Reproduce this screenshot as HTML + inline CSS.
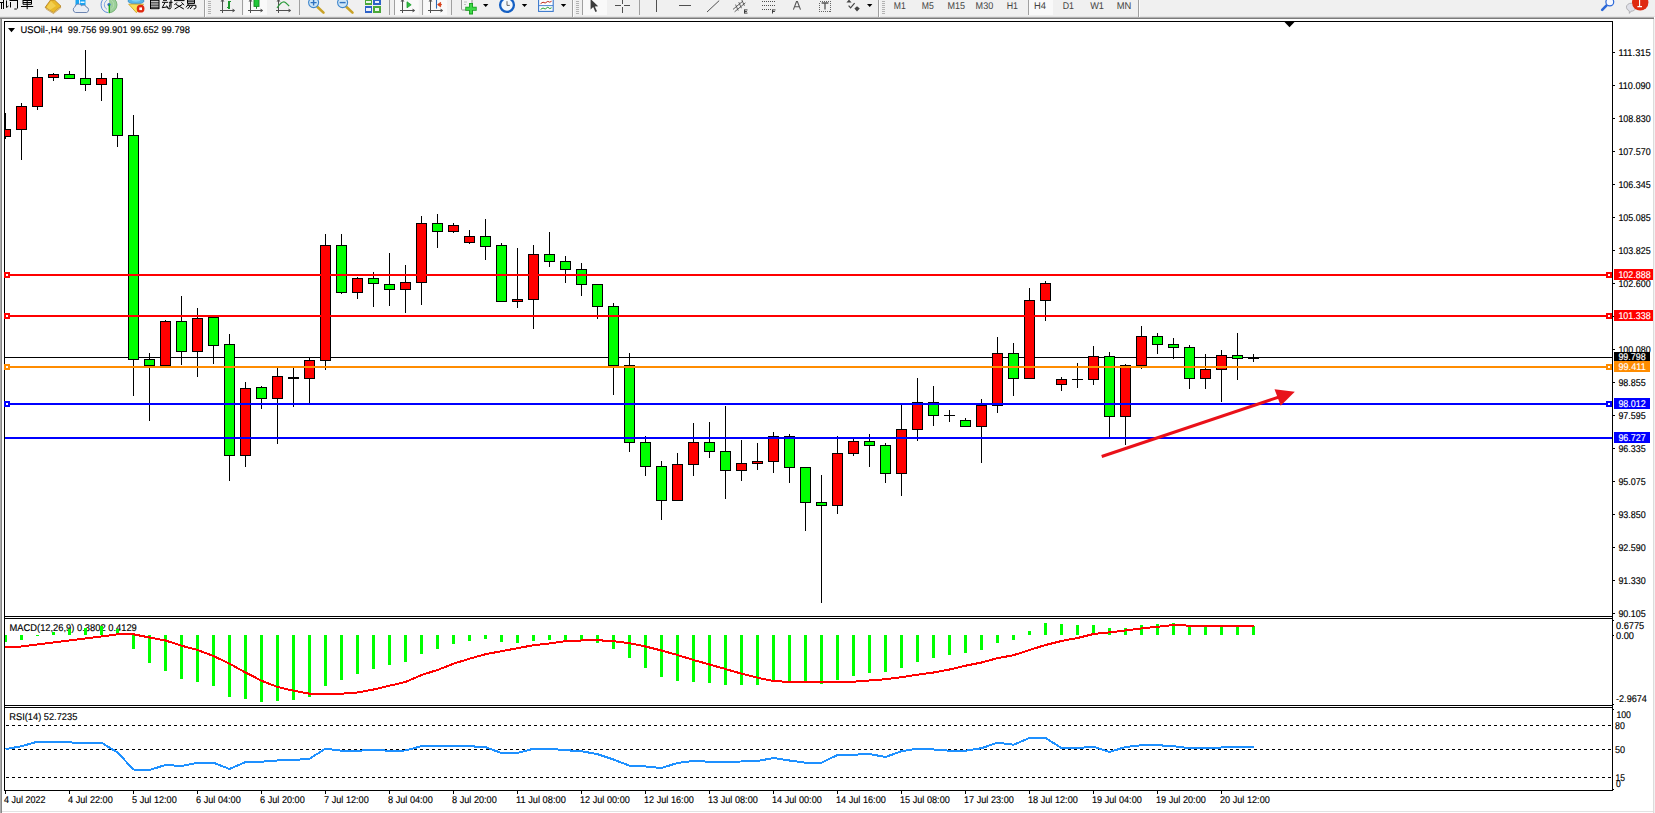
<!DOCTYPE html>
<html><head><meta charset="utf-8"><title>USOil H4</title>
<style>
html,body{margin:0;padding:0;background:#fff;}
body{width:1655px;height:813px;overflow:hidden;position:relative;font-family:"Liberation Sans",sans-serif;}
svg{position:absolute;left:0;top:0;display:block}
text{text-rendering:geometricPrecision;font-family:"Liberation Sans",sans-serif;font-size:9.8px;fill:#000;stroke:#000;stroke-width:0.15px}
text.wt{fill:#fff;stroke:#fff}
text.tf{fill:#444;stroke:none}
.w{fill:#fff}
</style></head><body>
<svg width="1655" height="813" viewBox="0 0 1655 813">

<rect x="0" y="0" width="1655" height="813" fill="#fff"/>
<g id="toolbar">
<rect x="0" y="0" width="1655" height="17" fill="#f0f0f0"/>
<rect x="0" y="16" width="1655" height="1" fill="#e4e4e4"/>
<rect x="0" y="17" width="1654" height="1" fill="#b0b0b0"/>
<rect x="0" y="18" width="1654" height="1" fill="#7a7a7a"/>
<!-- pressed buttons -->
<g fill="#f9f9f9"><rect x="243.5" y="0" width="23.5" height="15"/><rect x="394.7" y="0" width="24" height="15"/><rect x="423.4" y="0" width="23.6" height="15"/><rect x="583" y="0" width="24" height="15"/><rect x="1029" y="0" width="24" height="15"/></g>
<!-- separators -->
<g shape-rendering="crispEdges">
<g fill="#a0a0a0"><rect x="204" y="0" width="1" height="17"/><rect x="242" y="0" width="1" height="15"/><rect x="299" y="0" width="1" height="15"/><rect x="389" y="0" width="1" height="15"/><rect x="394" y="0" width="1" height="15"/><rect x="422" y="0" width="1" height="15"/><rect x="451" y="0" width="1" height="15"/><rect x="572" y="0" width="1" height="17"/><rect x="582" y="0" width="1" height="15"/><rect x="639" y="0" width="1" height="15"/><rect x="878" y="0" width="1" height="17"/><rect x="1028" y="0" width="1" height="15"/><rect x="1138" y="0" width="1" height="17"/></g>
<g fill="#fbfbfb"><rect x="205" y="0" width="1" height="17"/><rect x="573" y="0" width="1" height="17"/><rect x="879" y="0" width="1" height="17"/><rect x="1139" y="0" width="1" height="17"/></g>
<!-- grips -->
<g fill="#b2b2b2">
<rect x="208" y="1" width="3" height="1"/><rect x="208" y="3" width="3" height="1"/><rect x="208" y="5" width="3" height="1"/><rect x="208" y="7" width="3" height="1"/><rect x="208" y="9" width="3" height="1"/><rect x="208" y="11" width="3" height="1"/><rect x="208" y="13" width="3" height="1"/>
<rect x="576" y="1" width="3" height="1"/><rect x="576" y="3" width="3" height="1"/><rect x="576" y="5" width="3" height="1"/><rect x="576" y="7" width="3" height="1"/><rect x="576" y="9" width="3" height="1"/><rect x="576" y="11" width="3" height="1"/><rect x="576" y="13" width="3" height="1"/>
<rect x="882" y="1" width="3" height="1"/><rect x="882" y="3" width="3" height="1"/><rect x="882" y="5" width="3" height="1"/><rect x="882" y="7" width="3" height="1"/><rect x="882" y="9" width="3" height="1"/><rect x="882" y="11" width="3" height="1"/><rect x="882" y="13" width="3" height="1"/>
</g>
</g>
<!-- CJK fragments: (xin) ding dan -->
<g stroke="#000" stroke-width="1" fill="none">
<path d="M0 2.5h3.5M1.5 2.5v6.5M3.5 0v9"/>
<path d="M6.5 0.5v7l2-1.5M9.5 0.5h8.5M10.5 2v5.5M17.5 0v8.2l-1 .8h-2.2"/>
<path d="M23 0.5h8.5M23 2.5h8.5M23 4.3h8.5M23 0v4.3M31.5 0v4.3M21 6.5h12.2M27.2 0v9.2"/>
</g>
<!-- book icon -->
<path d="M50.5 0 L54.5 0 L61 6.2 L53.4 12.8 L45.2 7.3 Z" fill="#e9b92a" stroke="#b07a1c" stroke-width="0.8"/>
<path d="M46 7.8 L53.4 12.6 L60.6 6.6 L60.6 8 L53.4 13.6 L46 9 Z" fill="#f4e0a0" stroke="#b07a1c" stroke-width="0.5"/>
<path d="M51 1 L56 6 L50 10 L46.5 7.4 Z" fill="#f6d860" opacity="0.7"/>
<!-- doc + cloud -->
<rect x="75.5" y="-1" width="10" height="8" fill="#18a4f2"/>
<rect x="79" y="-1" width="1" height="7" fill="#dff2ff"/>
<rect x="80.5" y="1.5" width="4" height="1.5" fill="#e8f6ff"/>
<path d="M75.5 12.5 a3 3 0 0 1 -.6 -5.6 a3.6 3.6 0 0 1 6.6 -1.2 a3 3 0 0 1 4.8 1.4 a2.8 2.8 0 0 1 .4 5.4 z" fill="#e9edf5" stroke="#5f78a8" stroke-width="0.9"/>
<!-- signal icon -->
<g fill="none" stroke-linecap="round">
<path d="M109 -3.2 A8 8 0 0 1 109 12.8 L109 4.8 Z" fill="#8cc98a" stroke="none" opacity="0.85"/>
<path d="M109 -3.2 A8 8 0 0 1 109 12.8" stroke="#6aa86a" stroke-width="0.8"/>
<path d="M105.5 -2.4 A8 8 0 0 0 107.5 12.6" stroke="#4c7fd6" stroke-width="0.9"/>
<path d="M106.5 0.5 A5 5 0 0 0 106.5 9" stroke="#6f9ae0" stroke-width="0.9"/>
<path d="M111.6 0.6 A5 5 0 0 1 111.6 9" stroke="#b8dcb8" stroke-width="0.9"/>
<circle cx="109" cy="4.6" r="1.6" fill="#2f66d0" stroke="none"/>
<path d="M109.3 5v7.6" stroke="#22aa22" stroke-width="1.4"/>
</g>
<!-- autotrading icon -->
<ellipse cx="136" cy="1" rx="8" ry="3" fill="#58b4e6" stroke="#2d86c2" stroke-width="0.7"/>
<ellipse cx="136" cy="-0.5" rx="4.5" ry="2.2" fill="#7fd0f4"/>
<path d="M128.7 4.2 L143.5 4.2 L136.4 12.7 Z" fill="#f7e05a" stroke="#c9a020" stroke-width="0.8"/>
<circle cx="140.6" cy="8.7" r="3.9" fill="#e02810"/>
<rect x="139.3" y="7.4" width="2.7" height="2.7" fill="#fff"/>
<!-- CJK zi dong jiao yi -->
<g stroke="#000" stroke-width="1" fill="none">
<path d="M150.5 0v9M159 0v9M150.5 0.7h8.5M150.5 2.9h8.5M150.5 5.1h8.5M150.5 7.2h8.5M150.5 8.7h8.5"/>
<path d="M162 2.3h6M163 0.3h4M165 2.5l-2.8 5.2l5.2-.8M166.6 5.6l1.4 2.8M168.8 2.3h3.8M171 0v7.6l-.8 1.2h-1.6M170 2.5c0 3-.6 5-2 6.4"/>
<path d="M174 0.6h10.5M177 2.4l-2.6 2.6M181.4 2.4l2.8 2.6M176 4.4l7.8 4.6M182.4 4.4l-7.8 4.6"/>
<path d="M187.5 0h7v3.6h-7zM187.5 1.8h7M187.3 5.3h8.6v2.2l-1 1.4h-1.2M188.6 3.8l-2.6 3.6M190.4 5.5l-2.8 3.4M192.8 5.5l-2.6 3.4"/>
</g>
<!-- chart type icons -->
<g stroke="#505050" stroke-width="1.1" fill="none" shape-rendering="crispEdges">
<path d="M222.5 0v12.6M220 10.5h13"/>
<path d="M250.5 0v12.6M248 10.5h13"/>
<path d="M278.5 0v12.6M276 10.5h13"/>
<path d="M402.5 0v12.6M400 10.5h13"/>
<path d="M430.5 0v12.6M428 10.5h13"/>
</g>
<g fill="#505050"><path d="M232.6 8.6l2.6 2-2.6 2zM260.6 8.6l2.6 2-2.6 2zM288.6 8.6l2.6 2-2.6 2zM412.6 8.6l2.6 2-2.6 2zM440.6 8.6l2.6 2-2.6 2z"/><path d="M220.5 1.6l2-2.6 2 2.6zM248.5 1.6l2-2.6 2 2.6zM276.5 1.6l2-2.6 2 2.6zM400.5 1.6l2-2.6 2 2.6zM428.5 1.6l2-2.6 2 2.6z"/></g>
<path d="M229 0.5v8M229 1.5h2M227 7.5h2" stroke="#1e9a2e" stroke-width="1.2" fill="none" shape-rendering="crispEdges"/>
<rect x="254" y="-1" width="5" height="7.4" fill="#20c838" stroke="#138a24" stroke-width="0.9"/><path d="M256.5 6.4v2.4" stroke="#138a24" stroke-width="1"/>
<path d="M277 8 C280 3.5 283 1 285 2.2 C287 3.4 288 5.2 289.2 6" stroke="#2a9a3a" stroke-width="1.1" fill="none"/>
<!-- zoom in/out -->
<g>
<path d="M317.5 7l6 5.6" stroke="#c9a227" stroke-width="2.6" stroke-linecap="round"/>
<circle cx="313.6" cy="2.6" r="5" fill="#cfe6f7" stroke="#3f86cc" stroke-width="1.1"/>
<path d="M310.6 2.6h6M313.6 -.4v6" stroke="#2f72c0" stroke-width="1.4"/>
<path d="M346.5 7l6 5.6" stroke="#c9a227" stroke-width="2.6" stroke-linecap="round"/>
<circle cx="342.6" cy="2.6" r="5" fill="#cfe6f7" stroke="#3f86cc" stroke-width="1.1"/>
<path d="M339.6 2.6h6" stroke="#2f72c0" stroke-width="1.4"/>
</g>
<!-- grid/tile icon -->
<g shape-rendering="crispEdges">
<rect x="364.5" y="-1" width="7.5" height="5.5" fill="#4aa83a"/><rect x="373" y="-1" width="7.5" height="5.5" fill="#2d62c8"/>
<rect x="364.5" y="5.5" width="7.5" height="7.2" fill="#2d62c8"/><rect x="373" y="5.5" width="7.5" height="7.2" fill="#4aa83a"/>
<rect x="366" y="0.5" width="4.5" height="2.5" fill="#eef6ee"/><rect x="374.5" y="0.5" width="4.5" height="2.5" fill="#eef0fa"/>
<rect x="366" y="8" width="4.5" height="3.2" fill="#eef0fa"/><rect x="374.5" y="8" width="4.5" height="3.2" fill="#eef6ee"/>
</g>
<!-- autoscroll / shift -->
<path d="M407 1.8l4.2 3-4.2 3z" fill="#2fc040" stroke="#1e9a2e" stroke-width="0.8"/>
<path d="M436.5 0v8.6" stroke="#2a6ab8" stroke-width="1.1"/>
<path d="M442 4.6h-3.6M440.6 2.4l-3 2.2 3 2.2z" stroke="#d84018" stroke-width="0.9" fill="#d84018"/>
<!-- indicators (doc + plus) -->
<rect x="461.5" y="-1" width="10.5" height="11" rx="1" fill="#f4f4f4" stroke="#8a8a8a" stroke-width="0.9"/>
<path d="M464 2h3M464 4.5h2" stroke="#b0b0b0" stroke-width="0.8"/>
<path d="M471 3v11.4M465.3 8.7h11.4" stroke="#159a1c" stroke-width="4"/>
<path d="M471 3.8v9.8M466.1 8.7h9.8" stroke="#3fd848" stroke-width="2.4"/>
<path d="M483 4h5.4l-2.7 3z" fill="#000"/>
<!-- clock -->
<circle cx="507" cy="5" r="6.9" fill="#f4f8fc" stroke="#1560c4" stroke-width="2.3"/>
<path d="M507 1.2v4.2h2.8" stroke="#555" stroke-width="0.9" fill="none"/>
<path d="M521.8 4h5.4l-2.7 3z" fill="#000"/>
<!-- template icon -->
<rect x="538.6" y="-1" width="14.6" height="12.4" fill="#fbfdff" stroke="#3a78cc" stroke-width="1.1"/>
<path d="M539 5.6h14" stroke="#3a78cc" stroke-width="0.9"/>
<path d="M540.6 3.6l2.4-1.4 2.2.8 2.6-1.6 2 .8 1.8-1" stroke="#c03020" stroke-width="1" fill="none"/>
<path d="M540.6 9.4l2.4-1.4 2.2 1 2.6-1.8 2 1.4 1.8-.8" stroke="#28a030" stroke-width="1" fill="none"/>
<path d="M560.8 4h5.4l-2.7 3z" fill="#000"/>
<!-- cursor -->
<path d="M590.6 -1 L590.6 9.4 L593.2 7 L595.4 12 L597 11.2 L594.8 6.4 L598.2 6.2 Z" fill="#3c3c3c"/>
<!-- crosshair -->
<path d="M615 5.5h6M623.6 5.5h6M622.5 0v4M622.5 7v5.6" stroke="#505050" stroke-width="1" shape-rendering="crispEdges"/>
<!-- vline, hline, trendline -->
<path d="M656.5 0v11.8M679 5.5h12" stroke="#505050" stroke-width="1" shape-rendering="crispEdges"/>
<path d="M707 12L719.2 0.6" stroke="#505050" stroke-width="1"/>
<!-- channel -->
<g stroke="#505050" stroke-width="0.9" fill="none"><path d="M733 9.4l10-8.4M734.6 11.8l10.8-9M735.6 4.6l2.6 6M738.8 2.2l2.6 6M741.8 -.2l2.6 6"/></g>
<path d="M744.5 9.5v4M744.5 9.9h3M744.5 11.5h2.4M744.5 13.1h3" stroke="#303030" stroke-width="0.9" fill="none"/>
<!-- fibo -->
<g stroke="#505050" stroke-width="1" stroke-dasharray="1 1" shape-rendering="crispEdges"><path d="M762 1.5h13.6M762 5.5h13.6M762 9.5h9"/></g>
<path d="M772.5 9.5v4M772.5 9.9h3M772.5 11.5h2.4" stroke="#303030" stroke-width="0.9" fill="none"/>
<!-- A, T -->
<path d="M793.4 9.6l3.1-8h.9l3.1 8M794.6 6.8h4.7" stroke="#555" stroke-width="1.1" fill="none"/>
<rect x="819.5" y="1.5" width="11" height="10" fill="none" stroke="#555" stroke-width="0.9" stroke-dasharray="1 1" shape-rendering="crispEdges"/>
<path d="M821.6 3h6.8M825 3v6.6" stroke="#555" stroke-width="1.3" fill="none"/>
<!-- arrows icon -->
<path d="M846.4 2.6l2.6-3 2.6 3zM854.4 8.6l2.6-2.4 2.8 2.4-2.8 2.8z" fill="#444"/>
<path d="M848.6 5.6l2 2.2 4-4.6" stroke="#444" stroke-width="1.2" fill="none"/>
<path d="M867 4h5.4l-2.7 3z" fill="#000"/>
<!-- timeframes -->
<g style="font-size:10px">
<text x="893.8" y="8.6" textLength="12" lengthAdjust="spacingAndGlyphs" class="tf">M1</text>
<text x="921.8" y="8.6" textLength="12" lengthAdjust="spacingAndGlyphs" class="tf">M5</text>
<text x="947.5" y="8.6" textLength="17.6" lengthAdjust="spacingAndGlyphs" class="tf">M15</text>
<text x="975.6" y="8.6" textLength="17.6" lengthAdjust="spacingAndGlyphs" class="tf">M30</text>
<text x="1006.7" y="8.6" textLength="11.3" lengthAdjust="spacingAndGlyphs" class="tf">H1</text>
<text x="1034" y="8.6" textLength="12" lengthAdjust="spacingAndGlyphs" class="tf">H4</text>
<text x="1062.7" y="8.6" textLength="11.3" lengthAdjust="spacingAndGlyphs" class="tf">D1</text>
<text x="1090.2" y="8.6" textLength="13.8" lengthAdjust="spacingAndGlyphs" class="tf">W1</text>
<text x="1116.7" y="8.6" textLength="14.6" lengthAdjust="spacingAndGlyphs" class="tf">MN</text>
</g>
<!-- search -->
<path d="M1606.6 5.4L1602.2 9.8" stroke="#2c68d8" stroke-width="2.6" stroke-linecap="round"/>
<circle cx="1609.8" cy="2" r="3.9" fill="#f6f8ff" stroke="#2c68d8" stroke-width="1.2"/>
<!-- chat bubble + badge -->
<path d="M1626.4 7.2a4.8 4 0 0 1 9.6 0a4.8 4 0 0 1 -5 4l-1.6 2.2l-.2-2.6a4.8 4 0 0 1 -2.8-3.6z" fill="#dfe0e8" stroke="#a4a4a8" stroke-width="0.8"/>
<circle cx="1640.2" cy="2.4" r="8.2" fill="#df2a10"/>
<path d="M1639.6 -2v8.4M1637.4 6.6h4.6" stroke="#fff" stroke-width="1.1" fill="none"/>
</g>

<g shape-rendering="crispEdges">
<rect x="0" y="19" width="1" height="794" fill="#ababab"/><rect x="1" y="19" width="1" height="794" fill="#868686"/>
<rect x="1653" y="19" width="1" height="794" fill="#dcdcdc"/><rect x="1654" y="19" width="1" height="794" fill="#f2f2f2"/>
<rect x="2" y="811" width="1651" height="1" fill="#e3e3e3"/>
<rect x="4" y="21" width="1609" height="1" fill="#000"/>
<rect x="4" y="21" width="1" height="770" fill="#000"/>
<rect x="1612" y="21" width="1" height="770" fill="#000"/>
<rect x="4" y="616" width="1609" height="1" fill="#000"/>
<rect x="4" y="618" width="1609" height="1" fill="#000"/>
<rect x="4" y="705" width="1609" height="1" fill="#000"/>
<rect x="4" y="707" width="1609" height="1" fill="#000"/>
<rect x="4" y="790" width="1609" height="1" fill="#000"/>
<rect x="5" y="357" width="1607" height="1" fill="#000"/>
<rect x="5" y="113" width="1" height="26" fill="#000"/><rect x="5" y="129" width="6" height="8" fill="#000"/><rect x="5" y="130" width="5" height="6" fill="#ff0000"/>
<rect x="21" y="103" width="1" height="57" fill="#000"/><rect x="16" y="106" width="11" height="24" fill="#000"/><rect x="17" y="107" width="9" height="22" fill="#ff0000"/>
<rect x="37" y="69" width="1" height="41" fill="#000"/><rect x="32" y="77" width="11" height="30" fill="#000"/><rect x="33" y="78" width="9" height="28" fill="#ff0000"/>
<rect x="53" y="73" width="1" height="8" fill="#000"/><rect x="48" y="74" width="11" height="4" fill="#000"/><rect x="49" y="75" width="9" height="2" fill="#ff0000"/>
<rect x="69" y="71" width="1" height="8" fill="#000"/><rect x="64" y="74" width="11" height="5" fill="#000"/><rect x="65" y="75" width="9" height="3" fill="#00ff00"/>
<rect x="85" y="50" width="1" height="41" fill="#000"/><rect x="80" y="78" width="11" height="7" fill="#000"/><rect x="81" y="79" width="9" height="5" fill="#00ff00"/>
<rect x="101" y="73" width="1" height="28" fill="#000"/><rect x="96" y="78" width="11" height="7" fill="#000"/><rect x="97" y="79" width="9" height="5" fill="#ff0000"/>
<rect x="117" y="73" width="1" height="74" fill="#000"/><rect x="112" y="78" width="11" height="58" fill="#000"/><rect x="113" y="79" width="9" height="56" fill="#00ff00"/>
<rect x="133" y="115" width="1" height="281" fill="#000"/><rect x="128" y="135" width="11" height="225" fill="#000"/><rect x="129" y="136" width="9" height="223" fill="#00ff00"/>
<rect x="149" y="353" width="1" height="68" fill="#000"/><rect x="144" y="359" width="11" height="7" fill="#000"/><rect x="145" y="360" width="9" height="5" fill="#00ff00"/>
<rect x="165" y="320" width="1" height="46" fill="#000"/><rect x="160" y="321" width="11" height="45" fill="#000"/><rect x="161" y="322" width="9" height="43" fill="#ff0000"/>
<rect x="181" y="296" width="1" height="69" fill="#000"/><rect x="176" y="321" width="11" height="31" fill="#000"/><rect x="177" y="322" width="9" height="29" fill="#00ff00"/>
<rect x="197" y="308" width="1" height="69" fill="#000"/><rect x="192" y="318" width="11" height="34" fill="#000"/><rect x="193" y="319" width="9" height="32" fill="#ff0000"/>
<rect x="213" y="317" width="1" height="47" fill="#000"/><rect x="208" y="317" width="11" height="29" fill="#000"/><rect x="209" y="318" width="9" height="27" fill="#00ff00"/>
<rect x="229" y="334" width="1" height="147" fill="#000"/><rect x="224" y="344" width="11" height="112" fill="#000"/><rect x="225" y="345" width="9" height="110" fill="#00ff00"/>
<rect x="245" y="382" width="1" height="85" fill="#000"/><rect x="240" y="388" width="11" height="68" fill="#000"/><rect x="241" y="389" width="9" height="66" fill="#ff0000"/>
<rect x="261" y="386" width="1" height="23" fill="#000"/><rect x="256" y="387" width="11" height="12" fill="#000"/><rect x="257" y="388" width="9" height="10" fill="#00ff00"/>
<rect x="277" y="368" width="1" height="76" fill="#000"/><rect x="272" y="376" width="11" height="23" fill="#000"/><rect x="273" y="377" width="9" height="21" fill="#ff0000"/>
<rect x="293" y="368" width="1" height="39" fill="#000"/><rect x="288" y="377" width="11" height="2" fill="#000"/>
<rect x="309" y="358" width="1" height="45" fill="#000"/><rect x="304" y="360" width="11" height="19" fill="#000"/><rect x="305" y="361" width="9" height="17" fill="#ff0000"/>
<rect x="325" y="234" width="1" height="136" fill="#000"/><rect x="320" y="245" width="11" height="116" fill="#000"/><rect x="321" y="246" width="9" height="114" fill="#ff0000"/>
<rect x="341" y="234" width="1" height="60" fill="#000"/><rect x="336" y="245" width="11" height="48" fill="#000"/><rect x="337" y="246" width="9" height="46" fill="#00ff00"/>
<rect x="357" y="277" width="1" height="22" fill="#000"/><rect x="352" y="278" width="11" height="15" fill="#000"/><rect x="353" y="279" width="9" height="13" fill="#ff0000"/>
<rect x="373" y="272" width="1" height="35" fill="#000"/><rect x="368" y="278" width="11" height="6" fill="#000"/><rect x="369" y="279" width="9" height="4" fill="#00ff00"/>
<rect x="389" y="253" width="1" height="53" fill="#000"/><rect x="384" y="284" width="11" height="6" fill="#000"/><rect x="385" y="285" width="9" height="4" fill="#00ff00"/>
<rect x="405" y="265" width="1" height="48" fill="#000"/><rect x="400" y="282" width="11" height="8" fill="#000"/><rect x="401" y="283" width="9" height="6" fill="#ff0000"/>
<rect x="421" y="216" width="1" height="89" fill="#000"/><rect x="416" y="223" width="11" height="60" fill="#000"/><rect x="417" y="224" width="9" height="58" fill="#ff0000"/>
<rect x="437" y="214" width="1" height="34" fill="#000"/><rect x="432" y="223" width="11" height="9" fill="#000"/><rect x="433" y="224" width="9" height="7" fill="#00ff00"/>
<rect x="453" y="223" width="1" height="10" fill="#000"/><rect x="448" y="225" width="11" height="7" fill="#000"/><rect x="449" y="226" width="9" height="5" fill="#ff0000"/>
<rect x="469" y="230" width="1" height="14" fill="#000"/><rect x="464" y="236" width="11" height="7" fill="#000"/><rect x="465" y="237" width="9" height="5" fill="#ff0000"/>
<rect x="485" y="219" width="1" height="41" fill="#000"/><rect x="480" y="236" width="11" height="11" fill="#000"/><rect x="481" y="237" width="9" height="9" fill="#00ff00"/>
<rect x="501" y="243" width="1" height="59" fill="#000"/><rect x="496" y="245" width="11" height="57" fill="#000"/><rect x="497" y="246" width="9" height="55" fill="#00ff00"/>
<rect x="517" y="248" width="1" height="60" fill="#000"/><rect x="512" y="299" width="11" height="3" fill="#000"/><rect x="513" y="300" width="9" height="1" fill="#ff0000"/>
<rect x="533" y="245" width="1" height="84" fill="#000"/><rect x="528" y="254" width="11" height="46" fill="#000"/><rect x="529" y="255" width="9" height="44" fill="#ff0000"/>
<rect x="549" y="232" width="1" height="35" fill="#000"/><rect x="544" y="254" width="11" height="8" fill="#000"/><rect x="545" y="255" width="9" height="6" fill="#00ff00"/>
<rect x="565" y="256" width="1" height="27" fill="#000"/><rect x="560" y="261" width="11" height="9" fill="#000"/><rect x="561" y="262" width="9" height="7" fill="#00ff00"/>
<rect x="581" y="263" width="1" height="33" fill="#000"/><rect x="576" y="269" width="11" height="16" fill="#000"/><rect x="577" y="270" width="9" height="14" fill="#00ff00"/>
<rect x="597" y="284" width="1" height="35" fill="#000"/><rect x="592" y="284" width="11" height="23" fill="#000"/><rect x="593" y="285" width="9" height="21" fill="#00ff00"/>
<rect x="613" y="303" width="1" height="92" fill="#000"/><rect x="608" y="306" width="11" height="60" fill="#000"/><rect x="609" y="307" width="9" height="58" fill="#00ff00"/>
<rect x="629" y="353" width="1" height="99" fill="#000"/><rect x="624" y="365" width="11" height="78" fill="#000"/><rect x="625" y="366" width="9" height="76" fill="#00ff00"/>
<rect x="645" y="436" width="1" height="40" fill="#000"/><rect x="640" y="442" width="11" height="25" fill="#000"/><rect x="641" y="443" width="9" height="23" fill="#00ff00"/>
<rect x="661" y="461" width="1" height="59" fill="#000"/><rect x="656" y="466" width="11" height="35" fill="#000"/><rect x="657" y="467" width="9" height="33" fill="#00ff00"/>
<rect x="677" y="453" width="1" height="48" fill="#000"/><rect x="672" y="464" width="11" height="37" fill="#000"/><rect x="673" y="465" width="9" height="35" fill="#ff0000"/>
<rect x="693" y="423" width="1" height="53" fill="#000"/><rect x="688" y="442" width="11" height="23" fill="#000"/><rect x="689" y="443" width="9" height="21" fill="#ff0000"/>
<rect x="709" y="422" width="1" height="36" fill="#000"/><rect x="704" y="442" width="11" height="10" fill="#000"/><rect x="705" y="443" width="9" height="8" fill="#00ff00"/>
<rect x="725" y="406" width="1" height="93" fill="#000"/><rect x="720" y="451" width="11" height="20" fill="#000"/><rect x="721" y="452" width="9" height="18" fill="#00ff00"/>
<rect x="741" y="440" width="1" height="41" fill="#000"/><rect x="736" y="463" width="11" height="8" fill="#000"/><rect x="737" y="464" width="9" height="6" fill="#ff0000"/>
<rect x="757" y="443" width="1" height="27" fill="#000"/><rect x="752" y="461" width="11" height="3" fill="#000"/><rect x="753" y="462" width="9" height="1" fill="#ff0000"/>
<rect x="773" y="432" width="1" height="41" fill="#000"/><rect x="768" y="436" width="11" height="26" fill="#000"/><rect x="769" y="437" width="9" height="24" fill="#ff0000"/>
<rect x="789" y="434" width="1" height="49" fill="#000"/><rect x="784" y="436" width="11" height="32" fill="#000"/><rect x="785" y="437" width="9" height="30" fill="#00ff00"/>
<rect x="805" y="467" width="1" height="64" fill="#000"/><rect x="800" y="467" width="11" height="36" fill="#000"/><rect x="801" y="468" width="9" height="34" fill="#00ff00"/>
<rect x="821" y="475" width="1" height="128" fill="#000"/><rect x="816" y="502" width="11" height="4" fill="#000"/><rect x="817" y="503" width="9" height="2" fill="#00ff00"/>
<rect x="837" y="436" width="1" height="78" fill="#000"/><rect x="832" y="453" width="11" height="53" fill="#000"/><rect x="833" y="454" width="9" height="51" fill="#ff0000"/>
<rect x="853" y="439" width="1" height="17" fill="#000"/><rect x="848" y="441" width="11" height="13" fill="#000"/><rect x="849" y="442" width="9" height="11" fill="#ff0000"/>
<rect x="869" y="434" width="1" height="33" fill="#000"/><rect x="864" y="441" width="11" height="5" fill="#000"/><rect x="865" y="442" width="9" height="3" fill="#00ff00"/>
<rect x="885" y="443" width="1" height="40" fill="#000"/><rect x="880" y="445" width="11" height="29" fill="#000"/><rect x="881" y="446" width="9" height="27" fill="#00ff00"/>
<rect x="901" y="404" width="1" height="92" fill="#000"/><rect x="896" y="429" width="11" height="45" fill="#000"/><rect x="897" y="430" width="9" height="43" fill="#ff0000"/>
<rect x="917" y="378" width="1" height="63" fill="#000"/><rect x="912" y="402" width="11" height="28" fill="#000"/><rect x="913" y="403" width="9" height="26" fill="#ff0000"/>
<rect x="933" y="386" width="1" height="40" fill="#000"/><rect x="928" y="402" width="11" height="14" fill="#000"/><rect x="929" y="403" width="9" height="12" fill="#00ff00"/>
<rect x="949" y="410" width="1" height="12" fill="#000"/><rect x="944" y="415" width="11" height="1" fill="#000"/>
<rect x="965" y="418" width="1" height="9" fill="#000"/><rect x="960" y="420" width="11" height="7" fill="#000"/><rect x="961" y="421" width="9" height="5" fill="#00ff00"/>
<rect x="981" y="399" width="1" height="64" fill="#000"/><rect x="976" y="405" width="11" height="22" fill="#000"/><rect x="977" y="406" width="9" height="20" fill="#ff0000"/>
<rect x="997" y="337" width="1" height="76" fill="#000"/><rect x="992" y="353" width="11" height="53" fill="#000"/><rect x="993" y="354" width="9" height="51" fill="#ff0000"/>
<rect x="1013" y="343" width="1" height="53" fill="#000"/><rect x="1008" y="353" width="11" height="26" fill="#000"/><rect x="1009" y="354" width="9" height="24" fill="#00ff00"/>
<rect x="1029" y="288" width="1" height="91" fill="#000"/><rect x="1024" y="300" width="11" height="79" fill="#000"/><rect x="1025" y="301" width="9" height="77" fill="#ff0000"/>
<rect x="1045" y="281" width="1" height="40" fill="#000"/><rect x="1040" y="283" width="11" height="18" fill="#000"/><rect x="1041" y="284" width="9" height="16" fill="#ff0000"/>
<rect x="1061" y="377" width="1" height="14" fill="#000"/><rect x="1056" y="379" width="11" height="6" fill="#000"/><rect x="1057" y="380" width="9" height="4" fill="#ff0000"/>
<rect x="1077" y="363" width="1" height="25" fill="#000"/><rect x="1072" y="379" width="11" height="1" fill="#000"/>
<rect x="1093" y="346" width="1" height="39" fill="#000"/><rect x="1088" y="356" width="11" height="24" fill="#000"/><rect x="1089" y="357" width="9" height="22" fill="#ff0000"/>
<rect x="1109" y="352" width="1" height="85" fill="#000"/><rect x="1104" y="356" width="11" height="61" fill="#000"/><rect x="1105" y="357" width="9" height="59" fill="#00ff00"/>
<rect x="1125" y="364" width="1" height="81" fill="#000"/><rect x="1120" y="365" width="11" height="52" fill="#000"/><rect x="1121" y="366" width="9" height="50" fill="#ff0000"/>
<rect x="1141" y="326" width="1" height="43" fill="#000"/><rect x="1136" y="336" width="11" height="30" fill="#000"/><rect x="1137" y="337" width="9" height="28" fill="#ff0000"/>
<rect x="1157" y="333" width="1" height="21" fill="#000"/><rect x="1152" y="336" width="11" height="9" fill="#000"/><rect x="1153" y="337" width="9" height="7" fill="#00ff00"/>
<rect x="1173" y="338" width="1" height="21" fill="#000"/><rect x="1168" y="344" width="11" height="4" fill="#000"/><rect x="1169" y="345" width="9" height="2" fill="#00ff00"/>
<rect x="1189" y="345" width="1" height="44" fill="#000"/><rect x="1184" y="347" width="11" height="32" fill="#000"/><rect x="1185" y="348" width="9" height="30" fill="#00ff00"/>
<rect x="1205" y="354" width="1" height="35" fill="#000"/><rect x="1200" y="369" width="11" height="10" fill="#000"/><rect x="1201" y="370" width="9" height="8" fill="#ff0000"/>
<rect x="1221" y="350" width="1" height="52" fill="#000"/><rect x="1216" y="355" width="11" height="15" fill="#000"/><rect x="1217" y="356" width="9" height="13" fill="#ff0000"/>
<rect x="1237" y="333" width="1" height="47" fill="#000"/><rect x="1232" y="355" width="11" height="4" fill="#000"/><rect x="1233" y="356" width="9" height="2" fill="#00ff00"/>
<rect x="1253" y="354" width="1" height="8" fill="#000"/><rect x="1248" y="358" width="11" height="1" fill="#000"/>
<rect x="5" y="274" width="1607" height="2" fill="#ff0000"/><rect x="4" y="272" width="6" height="6" fill="#ff0000"/><rect x="6" y="274" width="2" height="2" fill="#fff"/><rect x="1606" y="272" width="6" height="6" fill="#ff0000"/><rect x="1608" y="274" width="2" height="2" fill="#fff"/>
<rect x="5" y="315" width="1607" height="2" fill="#ff0000"/><rect x="4" y="313" width="6" height="6" fill="#ff0000"/><rect x="6" y="315" width="2" height="2" fill="#fff"/><rect x="1606" y="313" width="6" height="6" fill="#ff0000"/><rect x="1608" y="315" width="2" height="2" fill="#fff"/>
<rect x="5" y="366" width="1607" height="2" fill="#ff8c00"/><rect x="4" y="364" width="6" height="6" fill="#ff8c00"/><rect x="6" y="366" width="2" height="2" fill="#fff"/><rect x="1606" y="364" width="6" height="6" fill="#ff8c00"/><rect x="1608" y="366" width="2" height="2" fill="#fff"/>
<rect x="5" y="403" width="1607" height="2" fill="#0000ff"/><rect x="4" y="401" width="6" height="6" fill="#0000ff"/><rect x="6" y="403" width="2" height="2" fill="#fff"/><rect x="1606" y="401" width="6" height="6" fill="#0000ff"/><rect x="1608" y="403" width="2" height="2" fill="#fff"/>
<rect x="5" y="437" width="1607" height="2" fill="#0000ff"/>
<text x="9.5" y="631" textLength="127.3" lengthAdjust="spacingAndGlyphs">MACD(12,26,9) 0.3802 0.4129</text>
<text x="9.3" y="720" textLength="68" lengthAdjust="spacingAndGlyphs">RSI(14) 52.7235</text>
<rect x="5" y="635" width="2" height="7" fill="#00ff00"/>
<rect x="20" y="635" width="3" height="5" fill="#00ff00"/>
<rect x="36" y="635" width="3" height="1" fill="#00ff00"/>
<rect x="52" y="632" width="3" height="3" fill="#00ff00"/>
<rect x="68" y="629" width="3" height="6" fill="#00ff00"/>
<rect x="84" y="628" width="3" height="7" fill="#00ff00"/>
<rect x="100" y="626" width="3" height="9" fill="#00ff00"/>
<rect x="116" y="629" width="3" height="6" fill="#00ff00"/>
<rect x="132" y="635" width="3" height="14" fill="#00ff00"/>
<rect x="148" y="635" width="3" height="28" fill="#00ff00"/>
<rect x="164" y="635" width="3" height="36" fill="#00ff00"/>
<rect x="180" y="635" width="3" height="44" fill="#00ff00"/>
<rect x="196" y="635" width="3" height="47" fill="#00ff00"/>
<rect x="212" y="635" width="3" height="51" fill="#00ff00"/>
<rect x="228" y="635" width="3" height="62" fill="#00ff00"/>
<rect x="244" y="635" width="3" height="64" fill="#00ff00"/>
<rect x="260" y="635" width="3" height="67" fill="#00ff00"/>
<rect x="276" y="635" width="3" height="66" fill="#00ff00"/>
<rect x="292" y="635" width="3" height="65" fill="#00ff00"/>
<rect x="308" y="635" width="3" height="62" fill="#00ff00"/>
<rect x="324" y="635" width="3" height="51" fill="#00ff00"/>
<rect x="340" y="635" width="3" height="45" fill="#00ff00"/>
<rect x="356" y="635" width="3" height="39" fill="#00ff00"/>
<rect x="372" y="635" width="3" height="34" fill="#00ff00"/>
<rect x="388" y="635" width="3" height="30" fill="#00ff00"/>
<rect x="404" y="635" width="3" height="27" fill="#00ff00"/>
<rect x="420" y="635" width="3" height="19" fill="#00ff00"/>
<rect x="436" y="635" width="3" height="14" fill="#00ff00"/>
<rect x="452" y="635" width="3" height="9" fill="#00ff00"/>
<rect x="468" y="635" width="3" height="6" fill="#00ff00"/>
<rect x="484" y="635" width="3" height="4" fill="#00ff00"/>
<rect x="500" y="635" width="3" height="7" fill="#00ff00"/>
<rect x="516" y="635" width="3" height="8" fill="#00ff00"/>
<rect x="532" y="635" width="3" height="6" fill="#00ff00"/>
<rect x="548" y="635" width="3" height="5" fill="#00ff00"/>
<rect x="564" y="635" width="3" height="5" fill="#00ff00"/>
<rect x="580" y="635" width="3" height="5" fill="#00ff00"/>
<rect x="596" y="635" width="3" height="8" fill="#00ff00"/>
<rect x="612" y="635" width="3" height="14" fill="#00ff00"/>
<rect x="628" y="635" width="3" height="23" fill="#00ff00"/>
<rect x="644" y="635" width="3" height="33" fill="#00ff00"/>
<rect x="660" y="635" width="3" height="42" fill="#00ff00"/>
<rect x="676" y="635" width="3" height="46" fill="#00ff00"/>
<rect x="692" y="635" width="3" height="47" fill="#00ff00"/>
<rect x="708" y="635" width="3" height="48" fill="#00ff00"/>
<rect x="724" y="635" width="3" height="50" fill="#00ff00"/>
<rect x="740" y="635" width="3" height="50" fill="#00ff00"/>
<rect x="756" y="635" width="3" height="50" fill="#00ff00"/>
<rect x="772" y="635" width="3" height="47" fill="#00ff00"/>
<rect x="788" y="635" width="3" height="47" fill="#00ff00"/>
<rect x="804" y="635" width="3" height="47" fill="#00ff00"/>
<rect x="820" y="635" width="3" height="49" fill="#00ff00"/>
<rect x="836" y="635" width="3" height="45" fill="#00ff00"/>
<rect x="852" y="635" width="3" height="41" fill="#00ff00"/>
<rect x="868" y="635" width="3" height="38" fill="#00ff00"/>
<rect x="884" y="635" width="3" height="37" fill="#00ff00"/>
<rect x="900" y="635" width="3" height="33" fill="#00ff00"/>
<rect x="916" y="635" width="3" height="27" fill="#00ff00"/>
<rect x="932" y="635" width="3" height="23" fill="#00ff00"/>
<rect x="948" y="635" width="3" height="20" fill="#00ff00"/>
<rect x="964" y="635" width="3" height="18" fill="#00ff00"/>
<rect x="980" y="635" width="3" height="15" fill="#00ff00"/>
<rect x="996" y="635" width="3" height="8" fill="#00ff00"/>
<rect x="1012" y="635" width="3" height="5" fill="#00ff00"/>
<rect x="1028" y="631" width="3" height="4" fill="#00ff00"/>
<rect x="1044" y="623" width="3" height="12" fill="#00ff00"/>
<rect x="1060" y="624" width="3" height="11" fill="#00ff00"/>
<rect x="1076" y="625" width="3" height="10" fill="#00ff00"/>
<rect x="1092" y="625" width="3" height="10" fill="#00ff00"/>
<rect x="1108" y="628" width="3" height="7" fill="#00ff00"/>
<rect x="1124" y="628" width="3" height="7" fill="#00ff00"/>
<rect x="1140" y="625" width="3" height="10" fill="#00ff00"/>
<rect x="1156" y="624" width="3" height="11" fill="#00ff00"/>
<rect x="1172" y="623" width="3" height="12" fill="#00ff00"/>
<rect x="1188" y="626" width="3" height="9" fill="#00ff00"/>
<rect x="1204" y="626" width="3" height="9" fill="#00ff00"/>
<rect x="1220" y="626" width="3" height="9" fill="#00ff00"/>
<rect x="1236" y="626" width="3" height="9" fill="#00ff00"/>
<rect x="1252" y="626" width="3" height="9" fill="#00ff00"/>
<line x1="6" y1="725.5" x2="1612" y2="725.5" stroke="#000" stroke-width="1" stroke-dasharray="3 3"/>
<line x1="6" y1="749.5" x2="1612" y2="749.5" stroke="#000" stroke-width="1" stroke-dasharray="3 3"/>
<line x1="6" y1="777.5" x2="1612" y2="777.5" stroke="#000" stroke-width="1" stroke-dasharray="3 3"/>
<rect x="1613" y="52" width="2" height="1" fill="#000"/>
<rect x="1613" y="85" width="2" height="1" fill="#000"/>
<rect x="1613" y="118" width="2" height="1" fill="#000"/>
<rect x="1613" y="151" width="2" height="1" fill="#000"/>
<rect x="1613" y="184" width="2" height="1" fill="#000"/>
<rect x="1613" y="217" width="2" height="1" fill="#000"/>
<rect x="1613" y="250" width="2" height="1" fill="#000"/>
<rect x="1613" y="283" width="2" height="1" fill="#000"/>
<rect x="1613" y="316" width="2" height="1" fill="#000"/>
<rect x="1613" y="349" width="2" height="1" fill="#000"/>
<rect x="1613" y="382" width="2" height="1" fill="#000"/>
<rect x="1613" y="415" width="2" height="1" fill="#000"/>
<rect x="1613" y="448" width="2" height="1" fill="#000"/>
<rect x="1613" y="481" width="2" height="1" fill="#000"/>
<rect x="1613" y="514" width="2" height="1" fill="#000"/>
<rect x="1613" y="547" width="2" height="1" fill="#000"/>
<rect x="1613" y="580" width="2" height="1" fill="#000"/>
<rect x="1613" y="613" width="2" height="1" fill="#000"/>
<rect x="1613" y="620" width="1" height="1" fill="#000"/>
<rect x="1613" y="635" width="1" height="1" fill="#000"/>
<rect x="1613" y="704" width="1" height="1" fill="#000"/>
<rect x="1613" y="709" width="1" height="1" fill="#000"/>
<rect x="1613" y="789" width="1" height="1" fill="#000"/>
<rect x="5" y="791" width="1" height="3" fill="#000"/>
<rect x="69" y="791" width="1" height="3" fill="#000"/>
<rect x="133" y="791" width="1" height="3" fill="#000"/>
<rect x="197" y="791" width="1" height="3" fill="#000"/>
<rect x="261" y="791" width="1" height="3" fill="#000"/>
<rect x="325" y="791" width="1" height="3" fill="#000"/>
<rect x="389" y="791" width="1" height="3" fill="#000"/>
<rect x="453" y="791" width="1" height="3" fill="#000"/>
<rect x="517" y="791" width="1" height="3" fill="#000"/>
<rect x="581" y="791" width="1" height="3" fill="#000"/>
<rect x="645" y="791" width="1" height="3" fill="#000"/>
<rect x="709" y="791" width="1" height="3" fill="#000"/>
<rect x="773" y="791" width="1" height="3" fill="#000"/>
<rect x="837" y="791" width="1" height="3" fill="#000"/>
<rect x="901" y="791" width="1" height="3" fill="#000"/>
<rect x="965" y="791" width="1" height="3" fill="#000"/>
<rect x="1029" y="791" width="1" height="3" fill="#000"/>
<rect x="1093" y="791" width="1" height="3" fill="#000"/>
<rect x="1157" y="791" width="1" height="3" fill="#000"/>
<rect x="1221" y="791" width="1" height="3" fill="#000"/>
</g>
<polyline shape-rendering="crispEdges" fill="none" stroke="#ff0000" stroke-width="2" stroke-linejoin="round" points="5.5,647 21.5,646.5 37.5,644.5 53.5,642.5 69.5,640.5 85.5,638.5 101.5,636.5 117.5,634.3 133.5,634.3 149.5,637.5 165.5,640.5 181.5,645.7 197.5,650 213.5,656 229.5,663.7 245.5,672.5 261.5,680.7 277.5,687 293.5,690.7 309.5,693.7 325.5,694 341.5,693.7 357.5,692.5 373.5,689.5 389.5,685.7 405.5,682 421.5,675 437.5,670 453.5,663.7 469.5,658.7 485.5,654.2 501.5,651.2 517.5,648.2 533.5,645.2 549.5,643.5 565.5,641.2 581.5,640.5 597.5,640.2 613.5,641.2 629.5,643.2 645.5,646.5 661.5,650.5 677.5,655 693.5,660 709.5,664.5 725.5,669 741.5,673.7 757.5,677.7 773.5,681 789.5,682 805.5,682 821.5,682 837.5,682 853.5,681.7 869.5,680.5 885.5,679.2 901.5,677.2 917.5,674.7 933.5,672.5 949.5,669.5 965.5,665.7 981.5,662.5 997.5,658.2 1013.5,655.2 1029.5,650 1045.5,645 1061.5,641 1077.5,638 1093.5,634 1109.5,632.4 1125.5,630.4 1141.5,628.5 1157.5,626.7 1165.5,626 1173.5,625 1181.5,625 1189.5,626 1205.5,626 1221.5,626 1237.5,626 1253.5,626"/>
<polyline shape-rendering="crispEdges" fill="none" stroke="#1e90ff" stroke-width="2" stroke-linejoin="round" points="5.5,749.2 21.5,746.2 37.5,741.7 53.5,741.7 69.5,741.7 72.5,742.7 101.5,742.7 117.5,752.5 133.5,769.5 149.5,770 165.5,765 181.5,766 197.5,762.7 213.5,762.7 229.5,769 245.5,762 261.5,761.7 277.5,760.5 293.5,760 309.5,758.7 325.5,748.7 341.5,750.7 357.5,750.7 373.5,750 389.5,750.7 405.5,750.5 421.5,746.2 437.5,746.2 453.5,746.2 469.5,746.2 485.5,747.2 501.5,753 517.5,753 533.5,748.7 549.5,748.7 565.5,750.2 581.5,751.2 597.5,754.2 613.5,759.5 629.5,765.7 645.5,766.5 661.5,768 677.5,763 693.5,761 709.5,761.7 725.5,761.7 741.5,761.5 757.5,761 773.5,758 789.5,760.5 805.5,762.7 821.5,762.7 837.5,755 853.5,754.7 869.5,754 885.5,757 901.5,751.2 917.5,748.7 933.5,749.5 949.5,750.7 965.5,750.7 981.5,748.2 997.5,742.7 1013.5,744.7 1029.5,738 1045.5,738 1061.5,748 1077.5,748 1093.5,746.7 1109.5,752 1125.5,747 1141.5,745.2 1157.5,745.2 1173.5,746.2 1189.5,748.2 1205.5,748 1221.5,747.5 1237.5,747 1253.5,747"/>
<line x1="1101.7" y1="456.5" x2="1282" y2="396" stroke="#ea1119" stroke-width="3"/>
<polygon points="1274.5,389.2 1294.8,391.7 1280.7,405.8" fill="#e8131b"/>
<polygon points="1284,21.5 1295,21.5 1289.5,27.2" fill="#000"/>
<polygon points="8,28 15,28 11.5,32.2" fill="#000"/>
<text x="20.5" y="32.6" textLength="169.5" lengthAdjust="spacingAndGlyphs" xml:space="preserve">USOil-,H4  99.756 99.901 99.652 99.798</text>
<text x="1618.4" y="56.0" textLength="32.3" lengthAdjust="spacingAndGlyphs">111.315</text>
<text x="1618.4" y="89.0" textLength="32.3" lengthAdjust="spacingAndGlyphs">110.090</text>
<text x="1618.4" y="122.0" textLength="32.3" lengthAdjust="spacingAndGlyphs">108.830</text>
<text x="1618.4" y="155.0" textLength="32.3" lengthAdjust="spacingAndGlyphs">107.570</text>
<text x="1618.4" y="188.0" textLength="32.3" lengthAdjust="spacingAndGlyphs">106.345</text>
<text x="1618.4" y="221.0" textLength="32.3" lengthAdjust="spacingAndGlyphs">105.085</text>
<text x="1618.4" y="254.0" textLength="32.3" lengthAdjust="spacingAndGlyphs">103.825</text>
<text x="1618.4" y="287.0" textLength="32.3" lengthAdjust="spacingAndGlyphs">102.600</text>
<text x="1618.4" y="320.0" textLength="32.3" lengthAdjust="spacingAndGlyphs">101.340</text>
<text x="1618.4" y="353.0" textLength="32.3" lengthAdjust="spacingAndGlyphs">100.080</text>
<text x="1618.4" y="386.0" textLength="27.4" lengthAdjust="spacingAndGlyphs">98.855</text>
<text x="1618.4" y="419.0" textLength="27.4" lengthAdjust="spacingAndGlyphs">97.595</text>
<text x="1618.4" y="452.0" textLength="27.4" lengthAdjust="spacingAndGlyphs">96.335</text>
<text x="1618.4" y="485.0" textLength="27.4" lengthAdjust="spacingAndGlyphs">95.075</text>
<text x="1618.4" y="518.0" textLength="27.4" lengthAdjust="spacingAndGlyphs">93.850</text>
<text x="1618.4" y="551.0" textLength="27.4" lengthAdjust="spacingAndGlyphs">92.590</text>
<text x="1618.4" y="584.0" textLength="27.4" lengthAdjust="spacingAndGlyphs">91.330</text>
<text x="1618.4" y="617.0" textLength="27.4" lengthAdjust="spacingAndGlyphs">90.105</text>
<rect x="1614" y="269" width="39" height="11" fill="#ff0000" shape-rendering="crispEdges"/><text x="1618.4" y="278.0" class="wt" textLength="32.3" lengthAdjust="spacingAndGlyphs">102.888</text>
<rect x="1614" y="310" width="39" height="11" fill="#ff0000" shape-rendering="crispEdges"/><text x="1618.4" y="319.0" class="wt" textLength="32.3" lengthAdjust="spacingAndGlyphs">101.338</text>
<rect x="1614" y="352" width="36" height="9" fill="#000000" shape-rendering="crispEdges"/><text x="1618.4" y="360.0" class="wt" textLength="27.4" lengthAdjust="spacingAndGlyphs">99.798</text>
<rect x="1614" y="361" width="36" height="11" fill="#ff8c00" shape-rendering="crispEdges"/><text x="1618.4" y="370.0" class="wt" textLength="27.4" lengthAdjust="spacingAndGlyphs">99.411</text>
<rect x="1614" y="398" width="36" height="11" fill="#0000ff" shape-rendering="crispEdges"/><text x="1618.4" y="407.0" class="wt" textLength="27.4" lengthAdjust="spacingAndGlyphs">98.012</text>
<rect x="1614" y="432" width="36" height="11" fill="#0000ff" shape-rendering="crispEdges"/><text x="1618.4" y="441.0" class="wt" textLength="27.4" lengthAdjust="spacingAndGlyphs">96.727</text>
<text x="1616" y="629" textLength="28.2" lengthAdjust="spacingAndGlyphs">0.6775</text>
<text x="1616" y="639" textLength="18" lengthAdjust="spacingAndGlyphs">0.00</text>
<text x="1616" y="702" textLength="30.9" lengthAdjust="spacingAndGlyphs">-2.9674</text>
<text x="1616.4" y="718" textLength="14.6" lengthAdjust="spacingAndGlyphs">100</text>
<text x="1615" y="729" textLength="9.8" lengthAdjust="spacingAndGlyphs">80</text>
<text x="1615" y="753.1" textLength="10.1" lengthAdjust="spacingAndGlyphs">50</text>
<text x="1615.6" y="780.6" textLength="9.5" lengthAdjust="spacingAndGlyphs">15</text>
<text x="1616" y="786.6" textLength="4.8" lengthAdjust="spacingAndGlyphs">0</text>
<text x="4" y="802.6" textLength="41.6" lengthAdjust="spacingAndGlyphs">4 Jul 2022</text>
<text x="68" y="802.6" textLength="44.8" lengthAdjust="spacingAndGlyphs">4 Jul 22:00</text>
<text x="132" y="802.6" textLength="44.8" lengthAdjust="spacingAndGlyphs">5 Jul 12:00</text>
<text x="196" y="802.6" textLength="44.8" lengthAdjust="spacingAndGlyphs">6 Jul 04:00</text>
<text x="260" y="802.6" textLength="44.8" lengthAdjust="spacingAndGlyphs">6 Jul 20:00</text>
<text x="324" y="802.6" textLength="44.8" lengthAdjust="spacingAndGlyphs">7 Jul 12:00</text>
<text x="388" y="802.6" textLength="44.8" lengthAdjust="spacingAndGlyphs">8 Jul 04:00</text>
<text x="452" y="802.6" textLength="44.8" lengthAdjust="spacingAndGlyphs">8 Jul 20:00</text>
<text x="516" y="802.6" textLength="49.8" lengthAdjust="spacingAndGlyphs">11 Jul 08:00</text>
<text x="580" y="802.6" textLength="49.8" lengthAdjust="spacingAndGlyphs">12 Jul 00:00</text>
<text x="644" y="802.6" textLength="49.8" lengthAdjust="spacingAndGlyphs">12 Jul 16:00</text>
<text x="708" y="802.6" textLength="49.8" lengthAdjust="spacingAndGlyphs">13 Jul 08:00</text>
<text x="772" y="802.6" textLength="49.8" lengthAdjust="spacingAndGlyphs">14 Jul 00:00</text>
<text x="836" y="802.6" textLength="49.8" lengthAdjust="spacingAndGlyphs">14 Jul 16:00</text>
<text x="900" y="802.6" textLength="49.8" lengthAdjust="spacingAndGlyphs">15 Jul 08:00</text>
<text x="964" y="802.6" textLength="49.8" lengthAdjust="spacingAndGlyphs">17 Jul 23:00</text>
<text x="1028" y="802.6" textLength="49.8" lengthAdjust="spacingAndGlyphs">18 Jul 12:00</text>
<text x="1092" y="802.6" textLength="49.8" lengthAdjust="spacingAndGlyphs">19 Jul 04:00</text>
<text x="1156" y="802.6" textLength="49.8" lengthAdjust="spacingAndGlyphs">19 Jul 20:00</text>
<text x="1220" y="802.6" textLength="49.8" lengthAdjust="spacingAndGlyphs">20 Jul 12:00</text>
</svg></body></html>
